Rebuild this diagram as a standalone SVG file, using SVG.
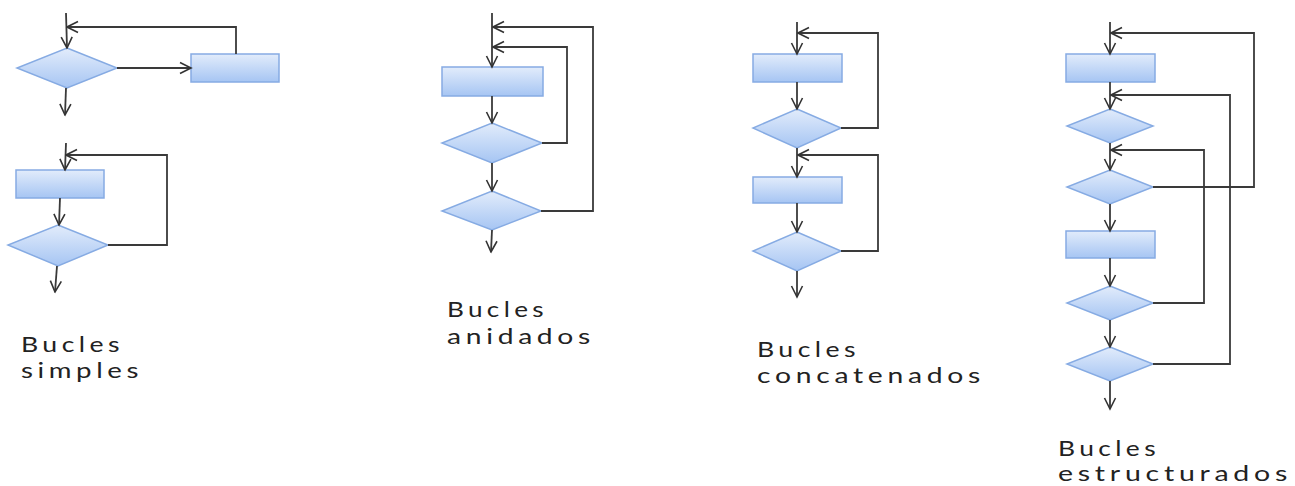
<svg xmlns="http://www.w3.org/2000/svg" width="1295" height="486" viewBox="0 0 1295 486">
<defs>
<linearGradient id="g" x1="0" y1="0" x2="0" y2="1">
<stop offset="0" stop-color="#e2ecfb"/>
<stop offset="1" stop-color="#a6c5f3"/>
</linearGradient>
<marker id="ah" viewBox="0 0 14 14" refX="12.5" refY="7" markerWidth="14" markerHeight="14" markerUnits="userSpaceOnUse" orient="auto">
<path d="M1.5,1.5 L12.5,7 L1.5,12.5" fill="none" stroke="#333" stroke-width="1.6"/>
</marker>
</defs>
<style>
.n{fill:url(#g);stroke:#86abe3;stroke-width:1.5}
.c{fill:none;stroke:#3a3a3a;stroke-width:1.8;marker-end:url(#ah)}
.t{font-family:Lato,"Open Sans","Liberation Sans",sans-serif;font-size:21px;letter-spacing:3.5px;fill:#222}
</style>
<rect width="1295" height="486" fill="#fff"/>

<g id="simples-a-diamond"><polygon class="n" points="67,48 117,68 67,88 17,68"/></g>
<g id="simples-a-rect"><rect class="n" x="191" y="54" width="88" height="28"/></g>
<g id="simples-b-rect"><rect class="n" x="16" y="170" width="88" height="28"/></g>
<g id="simples-b-diamond"><polygon class="n" points="58,225 108,245 58,266 8,245"/></g>

<g id="anidados-rect"><rect class="n" x="442" y="67" width="101" height="29"/></g>
<g id="anidados-d1"><polygon class="n" points="492,123 542,143 492,163 442,143"/></g>
<g id="anidados-d2"><polygon class="n" points="492,191 541,211 492,230 442,211"/></g>

<g id="concat-r1"><rect class="n" x="753" y="54" width="89" height="28"/></g>
<g id="concat-d1"><polygon class="n" points="797,109 841,128 797,148 753,128"/></g>
<g id="concat-r2"><rect class="n" x="753" y="177" width="89" height="26"/></g>
<g id="concat-d2"><polygon class="n" points="797,232 841,251 797,271 753,251"/></g>

<g id="estr-r1"><rect class="n" x="1066" y="54" width="89" height="28"/></g>
<g id="estr-d1"><polygon class="n" points="1110,109 1153,126 1110,143 1067,126"/></g>
<g id="estr-d2"><polygon class="n" points="1110,170 1153,187 1110,204 1067,187"/></g>
<g id="estr-r2"><rect class="n" x="1066" y="231" width="89" height="27"/></g>
<g id="estr-d3"><polygon class="n" points="1110,286 1153,303 1110,320 1067,303"/></g>
<g id="estr-d4"><polygon class="n" points="1110,347 1153,364 1110,381 1067,364"/></g>

<g id="connectors">
<path class="c" d="M66,13 L67,48"/>
<path class="c" d="M117,68 L191,68"/>
<path class="c" d="M236,54 L236,27 L67,27"/>
<path class="c" d="M66,88 L65,115"/>

<path class="c" d="M66,143 L65,170"/>
<path class="c" d="M108,245 L167,245 L167,155 L66,155"/>
<path class="c" d="M60,198 L59,225"/>
<path class="c" d="M57,266 L55,292"/>

<path class="c" d="M492,13 L492,67"/>
<path class="c" d="M492,96 L492,123"/>
<path class="c" d="M492,163 L492,191"/>
<path class="c" d="M492,230 L491,252"/>
<path class="c" d="M542,143 L567,143 L567,47 L493,47"/>
<path class="c" d="M541,211 L593,211 L593,27 L493,27"/>

<path class="c" d="M797,22 L797,54"/>
<path class="c" d="M797,82 L797,109"/>
<path class="c" d="M797,148 L797,177"/>
<path class="c" d="M797,203 L797,232"/>
<path class="c" d="M797,271 L797,297"/>
<path class="c" d="M841,128 L878,128 L878,33 L798,33"/>
<path class="c" d="M841,251 L878,251 L878,155 L798,155"/>

<path class="c" d="M1110,22 L1110,54"/>
<path class="c" d="M1110,82 L1110,109"/>
<path class="c" d="M1110,143 L1110,170"/>
<path class="c" d="M1110,204 L1110,231"/>
<path class="c" d="M1110,258 L1110,286"/>
<path class="c" d="M1110,320 L1110,347"/>
<path class="c" d="M1110,381 L1110,409"/>
<path class="c" d="M1153,187 L1254,187 L1254,33 L1111,33"/>
<path class="c" d="M1153,303 L1204,303 L1204,150 L1111,150"/>
<path class="c" d="M1153,364 L1230,364 L1230,95 L1111,95"/>
</g>

<g id="labels">
<text class="t" x="21" y="352" textLength="103" lengthAdjust="spacingAndGlyphs">Bucles</text>
<text class="t" x="21" y="378" textLength="122" lengthAdjust="spacingAndGlyphs">simples</text>
<text class="t" x="447" y="317" textLength="101" lengthAdjust="spacingAndGlyphs">Bucles</text>
<text class="t" x="447" y="344" textLength="148" lengthAdjust="spacingAndGlyphs">anidados</text>
<text class="t" x="757" y="357" textLength="103" lengthAdjust="spacingAndGlyphs">Bucles</text>
<text class="t" x="757" y="383" textLength="228" lengthAdjust="spacingAndGlyphs">concatenados</text>
<text class="t" x="1058" y="456" textLength="102" lengthAdjust="spacingAndGlyphs">Bucles</text>
<text class="t" x="1058" y="481" textLength="234" lengthAdjust="spacingAndGlyphs">estructurados</text>
</g>
</svg>
